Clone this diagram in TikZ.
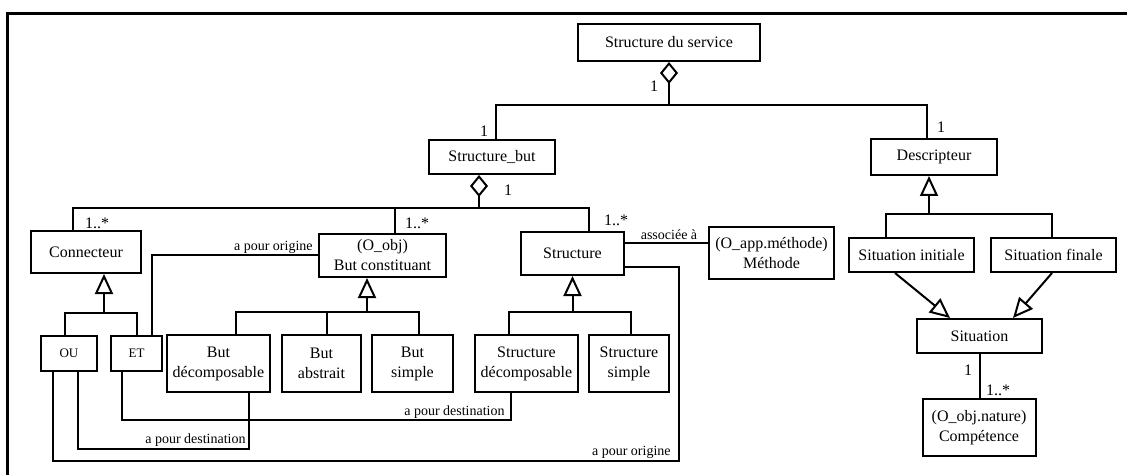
\documentclass[tikz,border=0pt]{standalone}
\usepackage{fontspec}
\setmainfont{Liberation Serif}
\usetikzlibrary{arrows.meta}
\begin{document}
\begin{tikzpicture}[x=0.5pt,y=-0.5pt,
  box/.style={draw, line width=1pt, rectangle, inner sep=1pt, align=center, font=\fontsize{8}{10}\selectfont},
  smallbox/.style={box, font=\fontsize{6.5}{8}\selectfont},
  lbl/.style={inner sep=0pt, font=\fontsize{7}{8}\selectfont},
  mult/.style={inner sep=0pt, font=\fontsize{8}{9}\selectfont},
  conn/.style={line width=1pt},
  aggr/.style={conn, {Diamond[open,length=11pt,width=9pt]}-},
  gen/.style={conn, {Triangle[open,length=10pt,width=9pt]}-},
  genend/.style={conn, -{Triangle[open,length=10pt,width=9pt]}},
]
\useasboundingbox (0,0) rectangle (1127,475);
% frame
\draw[line width=1.2pt] (7.5,475) -- (7.5,13.5) -- (1127,13.5);

% nodes
\node[box, minimum width=91pt, minimum height=18.5pt] (svc) at (669,42.5) {Structure du service};
\node[box, minimum width=63pt, minimum height=17pt] (sbut) at (492,157) {Structure\_but};
\node[box, minimum width=63pt, minimum height=18pt] (desc) at (934,157) {Descripteur};
\node[box, minimum width=55pt, minimum height=21pt] (conn) at (86,252) {Connecteur};
\node[box, minimum width=63.5pt, minimum height=21.5pt] (butc) at (382.5,255.5) {(O\_obj)\\But constituant};
\node[box, minimum width=51.5pt, minimum height=21.5pt] (struct) at (572.5,253.5) {Structure};
\node[box, minimum width=62.5pt, minimum height=26pt] (meth) at (771.5,253) {(O\_app.méthode)\\Méthode};
\node[smallbox, minimum width=28pt, minimum height=17.5pt] (ou) at (69,353.5) {OU};
\node[smallbox, minimum width=25.5pt, minimum height=17.5pt] (et) at (136.5,353.5) {ET};
\node[box, minimum width=51.5pt, minimum height=28.5pt] (butd) at (218.5,363.5) {But\\décomposable};
\node[box, minimum width=39.5pt, minimum height=28.5pt] (buta) at (321.5,363.5) {But\\abstrait};
\node[box, minimum width=40.5pt, minimum height=28.5pt] (buts) at (412.5,363.5) {But\\simple};
\node[box, minimum width=51.5pt, minimum height=28.5pt] (strd) at (526.5,363.5) {Structure\\décomposable};
\node[box, minimum width=40pt, minimum height=28.5pt] (strs) at (629,363.5) {Structure\\simple};
\node[box, minimum width=62.5pt, minimum height=17pt] (sini) at (911.5,255) {Situation initiale};
\node[box, minimum width=62.5pt, minimum height=17pt] (sfin) at (1053.5,255) {Situation finale};
\node[box, minimum width=62.5pt, minimum height=17pt] (sit) at (979.5,336) {Situation};
\node[box, minimum width=56.5pt, minimum height=28.5pt] (comp) at (979,427.5) {(O\_obj.nature)\\Compétence};

% aggregation: service
\coordinate (j1) at (669,105);
\draw[aggr] (svc.south) -- (j1);
\coordinate (sbutT) at ([xshift=2pt]sbut.north);
\coordinate (descT) at ([xshift=-3.5pt]desc.north);
\draw[conn] (sbutT) |- (j1) -| (descT);

% aggregation: Structure_but
\coordinate (sbutB) at ([xshift=-6.5pt]sbut.south);
\coordinate (j2) at (479,208);
\draw[aggr] (sbutB) -- (j2);
\coordinate (connT) at ([xshift=-6.5pt]conn.north);
\coordinate (structT) at ([xshift=8.25pt]struct.north);
\coordinate (butcT) at ([xshift=6.25pt]butc.north);
\draw[conn] (connT) |- (j2) -| (structT);
\draw[conn] (butcT) -- (butcT |- j2);

% generalization: Connecteur
\coordinate (connB) at ([xshift=9pt]conn.south);
\coordinate (j3) at (104,313);
\draw[gen] (connB) -- (j3);
\coordinate (ouT) at ([xshift=-2pt]ou.north);
\draw[conn] (ouT) |- (j3) -| (et.north);

% generalization: But constituant
\coordinate (butcB) at ([xshift=-7.75pt]butc.south);
\coordinate (j4) at (367,312);
\draw[gen] (butcB) -- (j4);
\coordinate (butdT) at ([xshift=8.75pt]butd.north);
\coordinate (butaT) at ([xshift=2.75pt]buta.north);
\coordinate (butsT) at ([xshift=3.25pt]buts.north);
\draw[conn] (butdT) |- (j4) -| (butsT);
\draw[conn] (butaT) -- (butaT |- j4);

% generalization: Structure
\coordinate (j5) at (572.5,312);
\draw[gen] (struct.south) -- (j5);
\coordinate (strdT) at ([xshift=-8.75pt]strd.north);
\coordinate (strsT) at ([xshift=1pt]strs.north);
\draw[conn] (strdT) |- (j5) -| (strsT);

% generalization: Descripteur
\coordinate (descB) at ([xshift=-2.5pt]desc.south);
\coordinate (j6) at (929,214);
\draw[gen] (descB) -- (j6);
\coordinate (siniT) at ([xshift=-12.75pt]sini.north);
\coordinate (sfinT) at ([xshift=-0.75pt]sfin.north);
\draw[conn] (siniT) |- (j6) -| (sfinT);

% situations -> Situation
\coordinate (siniB) at ([xshift=-8.25pt]sini.south);
\coordinate (sitT1) at ([xshift=-14.75pt]sit.north);
\draw[genend] (siniB) -- (sitT1);
\coordinate (sfinB) at ([xshift=-0.75pt]sfin.south);
\coordinate (sitT2) at ([xshift=16.75pt]sit.north);
\draw[genend] (sfinB) -- (sitT2);

% Situation - Competence
\draw[conn] (sit.south) -- (sit.south |- comp.north);

% ET -> But constituant (a pour origine)
\coordinate (etT2) at ([xshift=7.75pt]et.north);
\draw[conn] (etT2) |- (butc.west);

% Structure -> Methode
\coordinate (structE1) at ([yshift=5.25pt]struct.east);
\draw[conn] (structE1) -- (structE1 -| meth.west);

% Structure -> OU (a pour origine)
\coordinate (structE2) at ([yshift=-6.75pt]struct.east);
\coordinate (k1) at (679,461);
\coordinate (ouB1) at ([xshift=-8pt]ou.south);
\draw[conn] (structE2) -| (k1) -| (ouB1);

% OU -> But decomposable (a pour destination)
\coordinate (ouB2) at ([xshift=4.5pt]ou.south);
\coordinate (l1) at (249,449);
\coordinate (butdB) at ([xshift=15.25pt]butd.south);
\draw[conn] (ouB2) |- (l1) -- (butdB);

% ET -> Structure decomposable (a pour destination)
\coordinate (etB) at ([xshift=-7.25pt]et.south);
\coordinate (m1) at (511,420);
\coordinate (strdB) at ([xshift=-7.75pt]strd.south);
\draw[conn] (etB) |- (m1) -- (strdB);

% labels
\node[lbl, anchor=base east] (lo1) at (313,250) {a pour origine};
\node[lbl, anchor=base] (la) at (669,240) {associée à};
\node[lbl, anchor=base east] (lo2) at (671,455) {a pour origine};
\node[lbl, anchor=base east] (ld1) at (246,443) {a pour destination};
\node[lbl, anchor=base east] (ld2) at (505,415) {a pour destination};

% multiplicities
\node[mult, anchor=base] (m01) at (654,92) {1};
\node[mult, anchor=base] (m02) at (484,137) {1};
\node[mult, anchor=base] (m03) at (941,133) {1};
\node[mult, anchor=base] (m04) at (508,196) {1};
\node[mult, anchor=base] (m05) at (97,229) {1..*};
\node[mult, anchor=base] (m06) at (417,229) {1..*};
\node[mult, anchor=base] (m07) at (616,226) {1..*};
\node[mult, anchor=base] (m08) at (968,375) {1};
\node[mult, anchor=base] (m09) at (998,395) {1..*};
\end{tikzpicture}
\end{document}
